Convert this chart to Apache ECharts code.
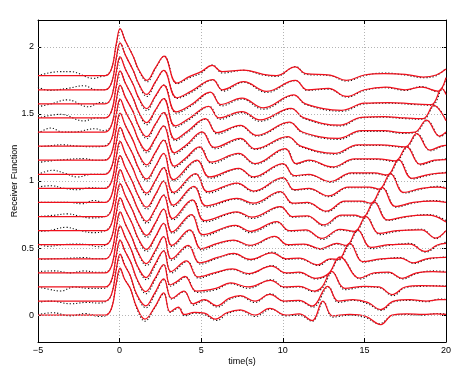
<!DOCTYPE html>
<html><head><meta charset="utf-8">
<script src="https://cdn.jsdelivr.net/npm/echarts@6/dist/echarts.min.js"></script>
<style>html,body{margin:0;padding:0;background:#fff}#c{width:469px;height:380px}</style>
</head><body><div id="c"></div>
<script>
// ---- data ----
const xTicks = [-5, 0, 5, 10, 15, 20];
const yTicks = [0, 0.5, 1, 1.5, 2];
const xName = 'time(s)';
const yName = 'Receiver Function';
// baseline level of each trace (bottom to top)
const traceOffsets = [0, 0.105, 0.21, 0.315, 0.42, 0.525, 0.63, 0.735, 0.84, 0.945, 1.05, 1.155, 1.26, 1.365, 1.47, 1.575, 1.68, 1.785];

// red (synthetic) traces: [time, amplitude above the trace baseline]
const red0 = [[-5,0],[-0.9,0],[-0.5,0.05],[-0.2,0.24],[0.03,0.35],[0.3,0.27],[0.65,0.2],[1.05,0.06],[1.55,-0.03],[2.15,0.06],[2.7,0.166],[3.1,0.025],[3.6,0.06],[3.95,0.005],[4.6,0.02],[5.2,0.015],[5.85,-0.03],[6.6,0.02],[7.4,0.04],[8.3,0],[9.2,0.05],[10.2,0],[11,0.01],[11.8,-0.04],[12.46,0.105],[13.05,-0.005],[14.1,0.005],[15.1,-0.01],[16,-0.07],[16.7,0],[17.6,0.01],[18.6,0.005],[19.4,0.01],[20,0.005]];
const red1 = [[-5,0],[-0.9,0],[-0.5,0.05],[-0.2,0.24],[0.03,0.35],[0.3,0.27],[0.65,0.19],[1.05,0.05],[1.6,-0.035],[2.15,0.06],[2.7,0.165],[3.2,0.02],[3.95,0.074],[4.5,-0.02],[5.2,0.01],[5.95,-0.035],[6.7,0.02],[7.4,0.04],[8.3,0],[9.2,0.05],[10.1,0],[11,0.005],[11.8,-0.037],[12.75,0.11],[13.4,0],[14.3,0.01],[15.2,-0.01],[16,-0.063],[16.8,0],[17.8,0.01],[18.8,0],[19.6,0.01],[20,0.01]];
const red2 = [[-5,0],[-0.9,0],[-0.5,0.05],[-0.2,0.24],[0.03,0.35],[0.32,0.27],[0.7,0.18],[1.1,0.05],[1.6,-0.035],[2.15,0.06],[2.7,0.166],[3.1,0.015],[3.5,0.04],[4.0,0.08],[4.7,-0.03],[5.9,-0.01],[6.8,0.03],[7.9,0],[9.25,0.05],[10.1,0],[11,0.005],[11.95,-0.03],[12.4,0],[13.0,0.117],[13.8,-0.01],[15,0.005],[15.9,0],[16.7,-0.056],[17.5,0],[18.5,0.01],[20,0.005]];
const red3 = [[-5,0],[-0.9,0],[-0.5,0.05],[-0.2,0.24],[0.03,0.35],[0.33,0.27],[0.72,0.17],[1.1,0.05],[1.62,-0.035],[2.15,0.06],[2.7,0.165],[3.15,0.01],[4.1,0.09],[4.8,-0.03],[5.8,0],[6.9,0.03],[7.9,-0.005],[9.3,0.05],[10.2,0],[11,0.005],[12,-0.04],[12.8,-0.005],[13.5,0.12],[14.7,-0.038],[15.6,0],[16.5,0.005],[17.3,-0.04],[18.2,0],[19.2,0.01],[20,0.005]];
const red4 = [[-5,0],[-0.9,0],[-0.5,0.05],[-0.2,0.24],[0.03,0.35],[0.35,0.26],[0.75,0.16],[1.12,0.05],[1.63,-0.035],[2.18,0.06],[2.7,0.165],[3.18,0.0],[4.2,0.1],[4.9,-0.03],[6.0,0.01],[7.0,0.04],[8.0,-0.005],[9.34,0.045],[10.2,0],[11,0.005],[12.15,-0.045],[12.9,0],[13.4,-0.005],[14.1,0.117],[14.9,-0.02],[16,0],[17.2,0.005],[18,-0.03],[18.8,0],[20,0.01]];
const red5 = [[-5,0],[-0.9,0],[-0.5,0.05],[-0.2,0.24],[0.03,0.35],[0.35,0.26],[0.78,0.155],[1.13,0.05],[1.64,-0.035],[2.2,0.06],[2.7,0.16],[3.2,-0.005],[4.3,0.11],[5.0,-0.03],[6.0,0.01],[7.0,0.035],[8.0,-0.005],[9.5,0.062],[10.3,0],[11.3,0.005],[12.3,-0.03],[13.3,0.01],[13.9,-0.005],[14.58,0.11],[15.4,-0.02],[16.5,0],[17.8,0.005],[18.7,-0.05],[19.5,0],[20,0.01]];
const red6 = [[-5,0],[-0.9,0],[-0.5,0.05],[-0.2,0.24],[0.03,0.35],[0.35,0.26],[0.8,0.15],[1.15,0.05],[1.65,-0.035],[2.2,0.06],[2.7,0.16],[3.22,-0.01],[4.4,0.12],[5.1,-0.03],[7.1,0.04],[8.0,-0.005],[9.64,0.067],[10.4,0],[11.4,0.005],[12.4,-0.057],[13.5,0.01],[14.4,-0.005],[15.1,0.105],[15.9,-0.02],[17,0],[18.5,0.005],[19.35,-0.055],[20,0]];
const red7 = [[-5,0],[-0.9,0],[-0.5,0.05],[-0.2,0.24],[0.03,0.35],[0.35,0.26],[0.8,0.15],[1.15,0.05],[1.65,-0.035],[2.2,0.06],[2.7,0.16],[3.25,-0.015],[4.45,0.124],[5.2,-0.03],[7.2,0.035],[8.1,-0.005],[9.85,0.074],[10.6,0],[11.5,0.005],[12.5,-0.062],[13.6,0.01],[14.4,0.01],[14.9,-0.005],[15.6,0.11],[16.4,-0.025],[17.5,0],[18.8,0.01],[19.4,0],[20,-0.04]];
const red8 = [[-5,0],[-0.9,0],[-0.5,0.05],[-0.2,0.24],[0.03,0.35],[0.35,0.26],[0.8,0.15],[1.15,0.05],[1.65,-0.035],[2.2,0.06],[2.7,0.16],[3.28,-0.02],[4.55,0.12],[5.3,-0.025],[7.2,0.03],[8.2,-0.005],[9.85,0.08],[10.6,-0.005],[11.5,0],[12.67,-0.065],[13.8,0.01],[14.8,0.01],[15.4,-0.005],[16.1,0.11],[16.9,-0.03],[18,0],[19.2,0.01],[20,0]];
const red9 = [[-5,0],[-0.9,0],[-0.5,0.05],[-0.2,0.24],[0.03,0.35],[0.35,0.26],[0.82,0.148],[1.15,0.05],[1.65,-0.035],[2.2,0.06],[2.7,0.155],[3.3,-0.03],[4.65,0.11],[5.4,-0.025],[7.2,0.04],[8.2,-0.02],[10,0.08],[10.7,-0.01],[11.6,0],[12.8,-0.056],[14,0.01],[15.3,0.01],[15.9,-0.005],[16.6,0.11],[17.4,-0.03],[18.5,0],[19.5,0.01],[20,0]];
const red10 = [[-5,0],[-0.9,0],[-0.5,0.05],[-0.2,0.24],[0.03,0.35],[0.35,0.26],[0.82,0.147],[1.15,0.05],[1.65,-0.035],[2.2,0.06],[2.7,0.155],[3.3,-0.04],[4.74,0.106],[5.5,-0.02],[7.3,0.045],[8.2,-0.02],[10,0.08],[10.7,-0.01],[11.6,0],[12.9,-0.055],[14.2,0.01],[15.6,0.01],[16.4,-0.005],[17.1,0.11],[17.9,-0.03],[19,0],[20,0.01]];
const red11 = [[-5,0],[-0.9,0],[-0.5,0.05],[-0.2,0.24],[0.03,0.35],[0.35,0.26],[0.83,0.146],[1.15,0.05],[1.65,-0.035],[2.2,0.06],[2.7,0.15],[3.35,-0.045],[4.0,0.01],[4.9,0.1],[5.6,-0.015],[7.3,0.05],[8.3,-0.025],[10.15,0.087],[10.8,-0.025],[11.6,0],[13.05,-0.05],[14.4,0.01],[15.8,0.01],[16.9,-0.005],[17.6,0.1],[18.4,-0.03],[19.3,0],[20,0.005]];
const red12 = [[-5,0],[-0.9,0],[-0.5,0.05],[-0.2,0.24],[0.03,0.35],[0.35,0.26],[0.84,0.145],[1.15,0.05],[1.65,-0.035],[2.2,0.06],[2.7,0.15],[3.35,-0.05],[4.1,0.01],[5.05,0.106],[5.8,-0.01],[7.4,0.057],[8.3,-0.02],[10.3,0.07],[11.1,0],[13.2,-0.054],[14.6,0.01],[16,0.01],[17.5,-0.005],[18.2,0.094],[19,-0.03],[19.7,0],[20,0.005]];
const red13 = [[-5,0],[-0.9,0],[-0.5,0.05],[-0.2,0.24],[0.03,0.35],[0.35,0.26],[0.85,0.145],[1.15,0.05],[1.65,-0.035],[2.2,0.06],[2.7,0.145],[3.4,-0.055],[4.2,0.01],[5.25,0.1],[5.95,-0.005],[7.4,0.05],[8.4,-0.025],[10.4,0.074],[11.2,0],[13.4,-0.048],[14.8,0.01],[16.2,0.01],[17.3,-0.005],[18.1,0],[18.8,0.088],[19.6,-0.03],[20,0]];
const red14 = [[-5,0],[-0.9,0],[-0.5,0.05],[-0.2,0.24],[0.03,0.35],[0.35,0.26],[0.85,0.142],[1.15,0.05],[1.65,-0.035],[2.2,0.06],[2.7,0.144],[3.4,-0.06],[4.3,0],[5.45,0.087],[6.1,0],[7.5,0.047],[8.6,-0.015],[10.5,0.072],[11.3,0],[13.5,-0.054],[14.8,0.005],[16.2,0.01],[17.5,0],[18.6,-0.005],[19.25,0.094],[20,-0.02]];
const red15 = [[-5,0],[-0.9,0],[-0.5,0.05],[-0.2,0.24],[0.03,0.35],[0.35,0.26],[0.85,0.14],[1.15,0.05],[1.65,-0.035],[2.2,0.06],[2.7,0.14],[3.45,-0.06],[4.4,-0.005],[5.56,0.088],[6.2,-0.005],[7.5,0.042],[8.8,-0.03],[10.66,0.067],[11.4,0],[13.6,-0.048],[15,0.005],[16.5,0.01],[18,0],[19.1,-0.005],[19.75,0.113],[20,0.07]];
const red16 = [[-5,0],[-0.9,0],[-0.5,0.05],[-0.2,0.24],[0.03,0.35],[0.35,0.26],[0.85,0.14],[1.15,0.05],[1.65,-0.035],[2.2,0.06],[2.7,0.144],[3.5,-0.06],[4.4,-0.01],[5.7,0.075],[6.3,0],[7.6,0.06],[9,-0.012],[10.77,0.07],[11.5,0],[12.8,0.01],[13.9,-0.05],[15,0],[16.3,0.02],[17.5,0],[18.5,0.02],[19.5,-0.01],[20,0.09]];
const red17 = [[-5,0],[-0.9,0],[-0.5,0.05],[-0.2,0.24],[0.03,0.35],[0.35,0.26],[0.85,0.14],[1.15,0.05],[1.68,-0.035],[2.2,0.06],[2.72,0.145],[3.5,-0.055],[4.3,-0.005],[5.0,0.03],[5.68,0.076],[6.27,0.03],[7.6,0.042],[8.8,0.01],[9.6,0],[10.77,0.065],[11.4,0.015],[12.9,0.005],[13.9,-0.035],[15,0.005],[16.2,0.015],[17.5,0.01],[18.6,-0.01],[19.4,0.005],[20,0.05]];

// black dotted (observed) traces
const blk0 = [[-5,0.005],[-4.1,0.018],[-3.0,-0.005],[-2.1,0.012],[-1.2,-0.01],[-0.8,0],[-0.5,0.05],[-0.2,0.23],[0.05,0.34],[0.3,0.27],[0.65,0.2],[1.05,0.05],[1.55,-0.045],[2.15,0.055],[2.72,0.16],[3.1,0.02],[3.65,0.055],[4.0,-0.005],[4.6,0.015],[5.2,0.005],[5.95,-0.04],[6.6,0.01],[7.4,0.035],[8.3,-0.01],[9.3,0.045],[10.2,-0.005],[11,0],[11.8,-0.045],[12.5,0.1],[13.05,-0.015],[14.1,0],[15.1,-0.02],[15.9,-0.065],[16.7,-0.005],[17.6,0.005],[18.6,0],[19.4,0.012],[20,0.01]];
const blk1 = [[-5,-0.01],[-4.2,0],[-3.0,-0.02],[-2.0,-0.01],[-1.3,-0.015],[-0.8,0],[-0.5,0.045],[-0.2,0.23],[0.05,0.345],[0.32,0.27],[0.65,0.19],[1.05,0.045],[1.62,-0.05],[2.18,0.055],[2.72,0.16],[3.2,0.015],[3.95,0.07],[4.55,-0.03],[5.2,0.005],[6.0,-0.045],[6.7,0.01],[7.4,0.035],[8.3,-0.01],[9.25,0.055],[10.1,-0.005],[11,0],[11.85,-0.045],[12.8,0.105],[13.4,-0.01],[14.3,0.005],[15.2,-0.02],[16.05,-0.07],[16.8,-0.005],[17.8,0.005],[18.8,-0.005],[19.6,0.015],[20,0.012]];
const blk2 = [[-5,0],[-4.4,-0.015],[-3.6,-0.03],[-2.8,0],[-1.9,-0.01],[-1.0,-0.01],[-0.5,0.045],[-0.2,0.23],[0.05,0.345],[0.32,0.27],[0.7,0.18],[1.1,0.045],[1.62,-0.05],[2.18,0.055],[2.72,0.165],[3.12,0.005],[3.55,0.035],[4.05,0.075],[4.75,-0.04],[5.9,-0.02],[6.8,0.025],[7.9,-0.01],[9.3,0.055],[10.1,-0.005],[11,0],[11.95,-0.035],[12.45,-0.005],[13.05,0.11],[13.8,-0.02],[15,0],[15.9,-0.005],[16.75,-0.065],[17.5,-0.005],[18.5,0.005],[20,0.01]];
const blk3 = [[-5,0.01],[-4.0,0.015],[-3.0,0],[-2.2,0.015],[-1.4,0.005],[-0.9,0.005],[-0.5,0.05],[-0.2,0.23],[0.05,0.345],[0.33,0.27],[0.72,0.17],[1.1,0.045],[1.64,-0.05],[2.18,0.055],[2.72,0.165],[3.18,0],[4.15,0.085],[4.85,-0.04],[5.8,-0.005],[6.9,0.025],[7.9,-0.01],[9.35,0.055],[10.2,-0.005],[11,0],[12.05,-0.045],[12.8,-0.01],[13.55,0.115],[14.75,-0.045],[15.6,-0.005],[16.5,0],[17.35,-0.045],[18.2,-0.005],[19.2,0.015],[20,0.01]];
const blk4 = [[-5,-0.005],[-4.0,0],[-3.0,0.005],[-2.2,0.01],[-1.5,0],[-0.9,0],[-0.5,0.05],[-0.2,0.23],[0.05,0.345],[0.35,0.26],[0.75,0.16],[1.12,0.045],[1.65,-0.05],[2.2,0.055],[2.72,0.165],[3.2,-0.01],[4.25,0.095],[4.95,-0.04],[6.0,0.005],[7.0,0.035],[8.0,-0.01],[9.4,0.05],[10.2,-0.005],[11,0],[12.2,-0.05],[12.9,-0.005],[13.4,-0.01],[14.15,0.11],[14.95,-0.025],[16,-0.005],[17.2,0.01],[18.05,-0.035],[18.8,-0.005],[20,0.015]];
const blk5 = [[-5,0.01],[-4.4,-0.012],[-3.5,0],[-2.7,0.005],[-1.9,0],[-1.3,-0.015],[-0.85,0],[-0.5,0.05],[-0.2,0.23],[0.05,0.345],[0.35,0.26],[0.78,0.155],[1.13,0.045],[1.66,-0.05],[2.2,0.055],[2.72,0.16],[3.22,-0.015],[4.35,0.105],[5.05,-0.04],[6.0,0.005],[7.0,0.03],[8.0,-0.01],[9.55,0.06],[10.3,-0.005],[11.3,0],[12.35,-0.035],[13.3,0.005],[13.9,-0.01],[14.62,0.105],[15.45,-0.03],[16.5,-0.005],[17.8,0.01],[18.75,-0.055],[19.5,-0.005],[20,0.02]];
const blk6 = [[-5,-0.005],[-4.3,0],[-3.3,0.025],[-2.4,0],[-1.6,-0.015],[-0.9,0],[-0.5,0.05],[-0.2,0.23],[0.05,0.345],[0.35,0.26],[0.8,0.15],[1.15,0.045],[1.67,-0.05],[2.2,0.055],[2.72,0.16],[3.25,-0.02],[4.45,0.115],[5.15,-0.04],[7.1,0.035],[8.0,-0.015],[9.7,0.06],[10.4,-0.005],[11.4,0],[12.45,-0.065],[13.5,0.005],[14.4,-0.01],[15.15,0.1],[15.95,-0.03],[17,-0.005],[18.5,0.01],[19.4,-0.06],[20,0.005]];
const blk7 = [[-5,0],[-4.0,0.01],[-3.2,0.02],[-2.5,0.005],[-1.8,-0.01],[-0.9,0],[-0.5,0.05],[-0.2,0.23],[0.05,0.345],[0.35,0.26],[0.8,0.15],[1.15,0.045],[1.67,-0.05],[2.2,0.055],[2.72,0.16],[3.28,-0.025],[4.5,0.12],[5.25,-0.04],[7.2,0.03],[8.1,-0.015],[9.9,0.07],[10.6,-0.005],[11.5,0],[12.55,-0.07],[13.6,0.005],[14.4,0.005],[14.9,-0.01],[15.65,0.105],[16.45,-0.03],[17.5,-0.005],[18.8,0.015],[19.4,0.005],[20,-0.03]];
const blk8 = [[-5,0],[-4.0,0.002],[-3.0,0],[-2.3,-0.01],[-1.6,0.015],[-0.9,0],[-0.5,0.05],[-0.2,0.23],[0.05,0.345],[0.35,0.26],[0.8,0.15],[1.15,0.045],[1.67,-0.05],[2.2,0.055],[2.72,0.16],[3.3,-0.03],[4.6,0.115],[5.35,-0.035],[7.2,0.025],[8.2,-0.015],[9.9,0.075],[10.6,-0.01],[11.5,-0.005],[12.72,-0.07],[13.8,0.005],[14.8,0.005],[15.4,-0.01],[16.15,0.105],[16.95,-0.035],[18,-0.005],[19.2,0.015],[20,0.005]];
const blk9 = [[-5,0.01],[-4.2,0.02],[-3.4,0],[-2.6,-0.01],[-1.8,0.005],[-1.0,0],[-0.5,0.05],[-0.2,0.23],[0.05,0.345],[0.35,0.26],[0.82,0.148],[1.15,0.045],[1.67,-0.05],[2.2,0.055],[2.72,0.155],[3.32,-0.04],[4.7,0.105],[5.45,-0.035],[7.2,0.035],[8.2,-0.025],[10.05,0.075],[10.7,-0.015],[11.6,-0.005],[12.85,-0.062],[14,0.005],[15.3,0.005],[15.9,-0.01],[16.65,0.105],[17.45,-0.035],[18.5,-0.005],[19.5,0.015],[20,0.005]];
const blk10 = [[-5,0],[-4.1,0.03],[-3.3,0.005],[-2.6,-0.02],[-1.7,0],[-1.0,0],[-0.5,0.05],[-0.2,0.23],[0.05,0.345],[0.35,0.26],[0.82,0.147],[1.15,0.045],[1.67,-0.05],[2.2,0.055],[2.72,0.155],[3.32,-0.05],[4.8,0.1],[5.55,-0.03],[7.3,0.04],[8.2,-0.025],[10.05,0.075],[10.7,-0.015],[11.6,-0.005],[12.95,-0.06],[14.2,0.005],[15.6,0.005],[16.4,-0.01],[17.15,0.105],[17.95,-0.035],[19,-0.005],[20,0.015]];
const blk11 = [[-5,-0.017],[-4.2,-0.005],[-3.3,0.005],[-2.2,0.012],[-1.5,0],[-1.0,0],[-0.5,0.05],[-0.2,0.23],[0.05,0.345],[0.35,0.26],[0.83,0.146],[1.15,0.045],[1.67,-0.05],[2.2,0.055],[2.72,0.15],[3.38,-0.055],[4.0,0],[4.95,0.095],[5.65,-0.025],[7.3,0.045],[8.3,-0.03],[10.2,0.08],[10.85,-0.03],[11.6,-0.005],[13.1,-0.055],[14.4,0.005],[15.8,0.005],[16.9,-0.01],[17.65,0.095],[18.45,-0.035],[19.3,-0.005],[20,0.01]];
const blk12 = [[-5,-0.005],[-4.5,0],[-3.5,0.01],[-2.6,0],[-1.6,-0.005],[-1.0,0],[-0.5,0.05],[-0.2,0.23],[0.05,0.345],[0.35,0.26],[0.84,0.145],[1.15,0.045],[1.67,-0.05],[2.2,0.055],[2.72,0.15],[3.38,-0.06],[4.1,0],[5.1,0.1],[5.85,-0.02],[7.4,0.05],[8.3,-0.025],[10.35,0.065],[11.1,-0.005],[13.25,-0.06],[14.6,0.005],[16,0.005],[17.5,-0.01],[18.25,0.09],[19.05,-0.035],[19.7,-0.005],[20,0.005]];
const blk13 = [[-5,-0.01],[-4.2,0.03],[-3.5,0],[-2.8,0],[-1.5,0.025],[-1.0,0.01],[-0.5,0.05],[-0.2,0.23],[0.05,0.345],[0.35,0.26],[0.85,0.145],[1.15,0.045],[1.67,-0.05],[2.2,0.055],[2.72,0.145],[3.42,-0.065],[4.2,0],[5.3,0.095],[6.0,-0.015],[7.4,0.045],[8.4,-0.03],[10.45,0.07],[11.2,-0.005],[13.45,-0.055],[14.8,0.005],[16.2,0.005],[17.3,-0.01],[18.1,-0.005],[18.85,0.085],[19.65,-0.035],[20,-0.005]];
const blk14 = [[-5,0],[-3.6,0.027],[-2.2,-0.022],[-1.4,0],[-0.9,0],[-0.5,0.05],[-0.2,0.23],[0.05,0.345],[0.35,0.26],[0.85,0.142],[1.15,0.045],[1.67,-0.05],[2.2,0.055],[2.72,0.144],[3.42,-0.07],[4.3,-0.01],[5.5,0.085],[6.15,-0.01],[7.5,0.04],[8.6,-0.025],[10.55,0.068],[11.3,-0.005],[13.55,-0.06],[14.8,0],[16.2,0.005],[17.5,-0.005],[18.6,-0.01],[19.3,0.09],[20,-0.015]];
const blk15 = [[-5,-0.022],[-4.2,0],[-3.2,0.03],[-1.9,-0.022],[-1.2,0.01],[-0.8,0.005],[-0.5,0.05],[-0.2,0.23],[0.05,0.345],[0.35,0.26],[0.85,0.14],[1.15,0.045],[1.67,-0.05],[2.2,0.055],[2.72,0.14],[3.48,-0.07],[4.4,-0.015],[5.6,0.085],[6.25,-0.015],[7.5,0.035],[8.8,-0.04],[10.7,0.063],[11.4,-0.005],[13.65,-0.055],[15,0],[16.5,0.005],[18,-0.005],[19.15,-0.01],[19.8,0.108],[20,0.08]];
const blk16 = [[-5,0.02],[-4.3,-0.005],[-3.2,0.01],[-2.2,0.03],[-1.4,0],[-0.9,0],[-0.5,0.05],[-0.2,0.23],[0.05,0.345],[0.35,0.26],[0.85,0.14],[1.15,0.045],[1.67,-0.05],[2.2,0.055],[2.72,0.144],[3.52,-0.065],[4.4,-0.02],[5.75,0.072],[6.35,-0.01],[7.6,0.055],[9,-0.02],[10.8,0.068],[11.5,-0.005],[12.8,0.005],[13.95,-0.055],[15,-0.005],[16.3,0.015],[17.5,-0.005],[18.5,0.025],[19.5,-0.015],[20,0.085]];
const blk17 = [[-5,0],[-3.7,0.03],[-3.0,0.03],[-1.6,-0.02],[-1.1,-0.005],[-0.85,0],[-0.5,0.05],[-0.2,0.23],[0.05,0.345],[0.35,0.26],[0.85,0.14],[1.15,0.045],[1.7,-0.045],[2.2,0.055],[2.74,0.145],[3.52,-0.06],[4.3,-0.015],[5.0,0.02],[5.7,0.08],[6.3,0.02],[7.6,0.04],[8.8,0.005],[9.6,-0.005],[10.8,0.068],[11.4,0.01],[12.9,0],[13.9,-0.04],[15,0],[16.2,0.02],[17.5,0.005],[18.6,-0.015],[19.4,0],[20,0.055]];

const redTraces = [red0,red1,red2,red3,red4,red5,red6,red7,red8,red9,red10,red11,red12,red13,red14,red15,red16,red17];
const blackTraces = [blk0,blk1,blk2,blk3,blk4,blk5,blk6,blk7,blk8,blk9,blk10,blk11,blk12,blk13,blk14,blk15,blk16,blk17];

// ---- chart ----
const FONT = 'Liberation Sans, Arial, Helvetica, sans-serif';
const GRIDCOLOR = '#b4b4b4';
const series = [];
// horizontal dotted grid lines at the y ticks
series.push({
  type: 'line', data: [], silent: true,
  markLine: { silent: true, symbol: 'none', label: { show: false }, animation: false,
    lineStyle: { type: [1, 2], color: GRIDCOLOR, width: 1 },
    data: yTicks.map(v => ({ yAxis: v })) }
});
blackTraces.forEach((tr, k) => {
  series.push({
    type: 'line', smooth: 0.4, showSymbol: false, silent: true,
    data: tr.map(p => [p[0], p[1] + traceOffsets[k]]),
    lineStyle: { color: '#111', width: 1.1, type: [1.2, 2] }, z: 3
  });
});
redTraces.forEach((tr, k) => {
  series.push({
    type: 'line', smooth: 0.4, showSymbol: false, silent: true,
    data: tr.map(p => [p[0], p[1] + traceOffsets[k]]),
    lineStyle: { color: '#f0101c', width: 1.25 }, z: 4
  });
});

const axisLineStyle = { show: true, onZero: false, lineStyle: { color: '#000', width: 1 } };
const tickStyle = { show: true, inside: true, length: 4, lineStyle: { color: '#000' } };
const labelStyle = { color: '#000', fontSize: 9, fontFamily: FONT };

const option = {
  animation: false,
  backgroundColor: '#fff',
  grid: { left: 38, right: 23, top: 20, bottom: 38, containLabel: false, outerBoundsMode: 'none' },
  xAxis: [
    { type: 'value', min: xTicks[0], max: xTicks[xTicks.length - 1], interval: 5,
      axisLine: axisLineStyle, axisTick: tickStyle,
      axisLabel: Object.assign({ margin: 4, formatter: v => v < 0 ? '\u2212' + Math.abs(v) : String(v) }, labelStyle),
      splitLine: { show: true, lineStyle: { type: [1, 2], color: GRIDCOLOR, width: 1 } },
      name: xName, nameLocation: 'middle', nameGap: 15, nameMoveOverlap: false,
      nameTextStyle: { color: '#000', fontSize: 9, fontFamily: FONT } },
    { type: 'value', position: 'top', min: xTicks[0], max: xTicks[xTicks.length - 1], interval: 5,
      axisLine: axisLineStyle, axisTick: tickStyle, axisLabel: { show: false }, splitLine: { show: false } }
  ],
  yAxis: [
    { type: 'value', min: -0.2, max: 2.2,
      axisLine: axisLineStyle,
      axisTick: Object.assign({ customValues: yTicks }, tickStyle),
      axisLabel: Object.assign({ margin: 4, customValues: yTicks }, labelStyle),
      splitLine: { show: false },
      name: yName, nameLocation: 'middle', nameGap: 19, nameRotate: 90, nameMoveOverlap: false,
      nameTextStyle: { color: '#000', fontSize: 9, fontFamily: FONT } },
    { type: 'value', position: 'right', min: -0.2, max: 2.2,
      axisLine: axisLineStyle,
      axisTick: Object.assign({ customValues: yTicks }, tickStyle),
      axisLabel: { show: false }, splitLine: { show: false } }
  ],
  series: series
};
const chart = echarts.init(document.getElementById('c'), null, { renderer: 'canvas' });
chart.setOption(option);
</script>
</body></html>
